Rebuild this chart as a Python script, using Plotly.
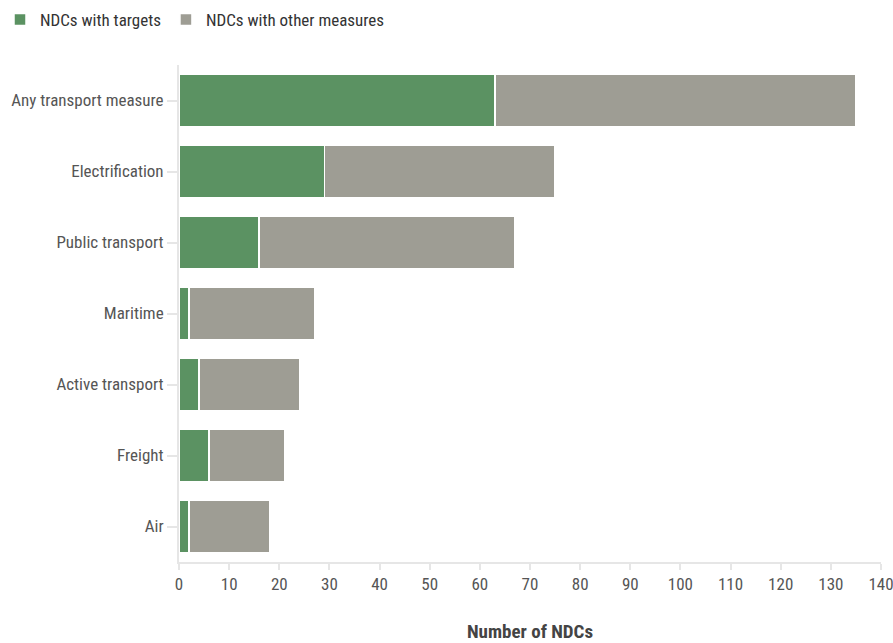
import plotly.graph_objects as go

categories = ["Any transport measure", "Electrification", "Public transport", "Maritime",
              "Active transport", "Freight", "Air"]
targets = [63, 29, 16, 2, 4, 6, 2]
other_measures = [72, 46, 51, 25, 20, 15, 16]
x_ticks = list(range(0, 141, 10))

FONT = "Roboto Condensed, Liberation Sans Narrow, Roboto, sans-serif"
GREEN = "rgb(91,146,98)"
GREY = "rgb(158,157,148)"

fig = go.Figure()
fig.add_trace(go.Bar(
    y=categories, x=targets, orientation="h", name="NDCs with targets",
    marker=dict(color=GREEN, line=dict(color="white", width=1.5)),
))
fig.add_trace(go.Bar(
    y=categories, x=other_measures, orientation="h", name="NDCs with other measures",
    marker=dict(color=GREY, line=dict(color="white", width=1.5)),
))

fig.update_layout(
    barmode="stack",
    bargap=0.25,
    width=893, height=643,
    margin=dict(l=179, r=12, t=65, b=81, autoexpand=False),
    paper_bgcolor="white", plot_bgcolor="white",
    font=dict(family=FONT, size=17, color="#555"),
    showlegend=True,
    legend=dict(orientation="h", xref="container", yref="container",
                x=0, xanchor="left", y=1 - 20 / 643, yanchor="middle",
                font=dict(size=17, color="#333"), traceorder="normal",
                itemwidth=30, bgcolor="rgba(0,0,0,0)"),
    xaxis=dict(
        range=[0, 140], tickvals=x_ticks, showgrid=False, zeroline=False,
        showline=True, linecolor="#e6e6e6", linewidth=2, automargin=False,
        ticklabeloverflow="allow",
        ticks="outside", ticklen=6, tickcolor="#e6e6e6", tickwidth=1.5,
        tickfont=dict(size=17, color="#555"),
        title=dict(text="<b>Number of NDCs</b>", font=dict(size=19, color="#444"), standoff=32),
    ),
    yaxis=dict(
        autorange="reversed", showgrid=False, zeroline=False, automargin=False,
        showline=True, linecolor="#e6e6e6", linewidth=2,
        ticks="outside", ticklen=10, tickcolor="#e6e6e6", tickwidth=1.5,
        tickfont=dict(size=17, color="#555"),
    ),
)

fig.write_html("out.html")
